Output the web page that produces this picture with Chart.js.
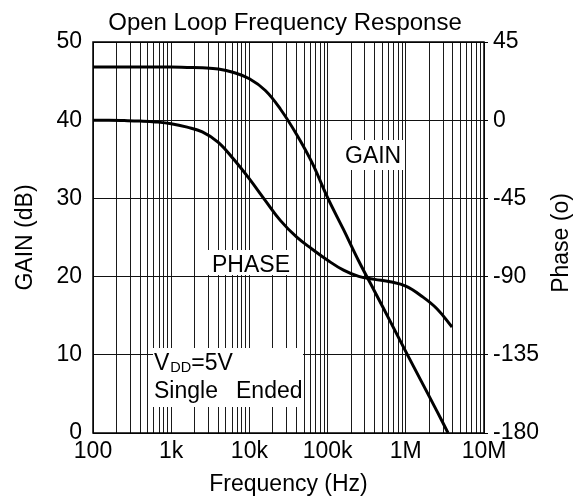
<!DOCTYPE html>
<html>
<head>
<meta charset="utf-8">
<script src="https://cdn.jsdelivr.net/npm/chart.js@4.4.1/dist/chart.umd.min.js"></script>
<style>
  html, body { margin: 0; padding: 0; background: #fff; }
  #wrap { width: 584px; height: 498px; position: relative; }
</style>
</head>
<body>
<div id="wrap"><canvas id="chart"></canvas></div>
<script>
// Open loop frequency response: gain (dB, left) and phase (deg, right) vs frequency

const decades = [100, 1e3, 1e4, 1e5, 1e6, 1e7];
const decadeLabels = ['100', '1k', '10k', '100k', '1M', '10M'];

const gainFreq = [100, 250, 630, 1000, 1600, 2500, 4000, 6300, 10000, 16000,
    25000, 40000, 63000, 100000, 160000, 250000, 400000, 630000, 1e6, 1.6e6,
    2.5e6, 3.47e6];
const gainDb = [46.8, 46.8, 46.8, 46.8, 46.75, 46.7, 46.55, 46.1, 45.3, 43.8,
    41.4, 38.2, 34.6, 30.1, 26.0, 22.0, 18.1, 14.3, 10.4, 6.5,
    2.8, 0];

const phaseFreq = [100, 160, 250, 400, 630, 1000, 1600, 2500, 4000, 6300,
    10000, 16000, 25000, 40000, 63000, 100000, 160000, 250000, 400000, 630000,
    1e6, 1.6e6, 2.5e6, 3.9e6];
const phaseDeg = [0, 0, -0.2, -0.5, -1, -2, -4, -6.7, -12.7, -22.5,
    -33.8, -46.3, -57.8, -67.2, -74.1, -80.6, -86.3, -89.9, -91.6, -93,
    -95.5, -101.3, -108.5, -119];

const FONT = '"Liberation Sans", Arial, Helvetica, sans-serif';

// grid lines at 1..9 x each decade
const xGrid = [];
decades.slice(0, -1).forEach((d) => {
    for (let k = 1; k <= 9; k++) xGrid.push(d * k);
});
xGrid.push(decades[decades.length - 1]);

function pts(xs, ys) {
    return xs.map((x, i) => ({ x, y: ys[i] }));
}

function box(ctx, x, y, w, h) {
    ctx.fillStyle = '#fff';
    ctx.fillRect(x, y, w, h);
}

const notes = {
    id: 'notes',
    beforeDatasetsDraw(chart) {
        const ctx = chart.ctx;
        ctx.save();
        box(ctx, 343, 140, 60, 30);
        box(ctx, 208, 250, 84, 25);
        box(ctx, 153, 348, 150, 59);
        ctx.fillStyle = '#000';
        ctx.textBaseline = 'alphabetic';
        ctx.textAlign = 'left';
        ctx.font = '23px ' + FONT;
        ctx.fillText('GAIN', 345, 163);
        ctx.fillText('PHASE', 212, 272);
        ctx.fillText('V', 154, 370);
        const vw = ctx.measureText('V').width;
        ctx.font = '14.5px ' + FONT;
        ctx.fillText('DD', 154 + vw + 1, 372);
        const dw = ctx.measureText('DD').width;
        ctx.font = '23px ' + FONT;
        ctx.fillText('=5V', 154 + vw + 1 + dw, 370);
        ctx.fillText('Single', 154, 398);
        ctx.fillText('Ended', 236, 398);
        ctx.restore();
    },
    afterDraw(chart) {
        const { ctx, chartArea: a } = chart;
        ctx.save();
        ctx.strokeStyle = '#000';
        ctx.lineWidth = 1.5;
        ctx.strokeRect(a.left, a.top, a.right - a.left, a.bottom - a.top);
        ctx.fillStyle = '#000';
        ctx.font = '24px ' + FONT;
        ctx.textAlign = 'center';
        ctx.textBaseline = 'alphabetic';
        ctx.fillText('Open Loop Frequency Response', 285, 30);
        // right axis title reads bottom to top
        ctx.font = '23px ' + FONT;
        ctx.textBaseline = 'middle';
        ctx.translate(562, 243);
        ctx.rotate(-Math.PI / 2);
        ctx.fillText('Phase (o)', 0, 0);
        ctx.restore();
    }
};

Chart.defaults.font.family = FONT;
Chart.defaults.color = '#000';

new Chart(document.getElementById('chart'), {
    type: 'line',
    data: {
        datasets: [
            {
                label: 'GAIN',
                data: pts(gainFreq, gainDb),
                yAxisID: 'y',
                borderColor: '#000',
                borderWidth: 3,
                pointRadius: 0,
                tension: 0.4,
                fill: false
            },
            {
                label: 'PHASE',
                data: pts(phaseFreq, phaseDeg),
                yAxisID: 'y2',
                borderColor: '#000',
                borderWidth: 3,
                pointRadius: 0,
                tension: 0.4,
                fill: false
            }
        ]
    },
    options: {
        responsive: true,
        maintainAspectRatio: false,
        animation: false,
        layout: { padding: { top: 42, left: 0, right: 0, bottom: 0 } },
        plugins: {
            legend: { display: false },
            tooltip: { enabled: false },
            title: { display: false }
        },
        scales: {
            x: {
                type: 'logarithmic',
                min: 100,
                max: 1e7,
                afterBuildTicks(s) {
                    s.ticks = xGrid.map((v) => ({ value: v }));
                },
                afterFit(s) { s.height = 65; },
                ticks: {
                    autoSkip: false,
                    maxRotation: 0,
                    padding: 5,
                    font: { size: 23 },
                    color: '#000',
                    callback(v) {
                        const i = decades.indexOf(v);
                        return i >= 0 ? decadeLabels[i] : '';
                    }
                },
                grid: { color: '#1a1a1a', lineWidth: 1, drawTicks: false },
                border: { display: false },
                title: {
                    display: true,
                    text: 'Frequency (Hz)',
                    font: { size: 23 },
                    color: '#000',
                    padding: { top: 0, bottom: 0 }
                }
            },
            y: {
                position: 'left',
                min: 0,
                max: 50,
                afterFit(s) { s.width = 93; },
                ticks: { stepSize: 10, padding: 11, font: { size: 23 }, color: '#000' },
                grid: { color: '#111', lineWidth: 1, drawTicks: false },
                border: { display: false },
                title: {
                    display: true,
                    text: 'GAIN (dB)',
                    font: { size: 23 },
                    color: '#000',
                    padding: { top: 12, bottom: 0 }
                }
            },
            y2: {
                position: 'right',
                min: -180,
                max: 45,
                afterFit(s) { s.width = 100; },
                ticks: { stepSize: 45, padding: 5, font: { size: 23 }, color: '#000' },
                grid: { drawOnChartArea: false, drawTicks: true, tickLength: 4, color: '#000' },
                border: { display: false },
                title: { display: false }
            }
        }
    },
    plugins: [notes]
});
</script>
</body>
</html>
